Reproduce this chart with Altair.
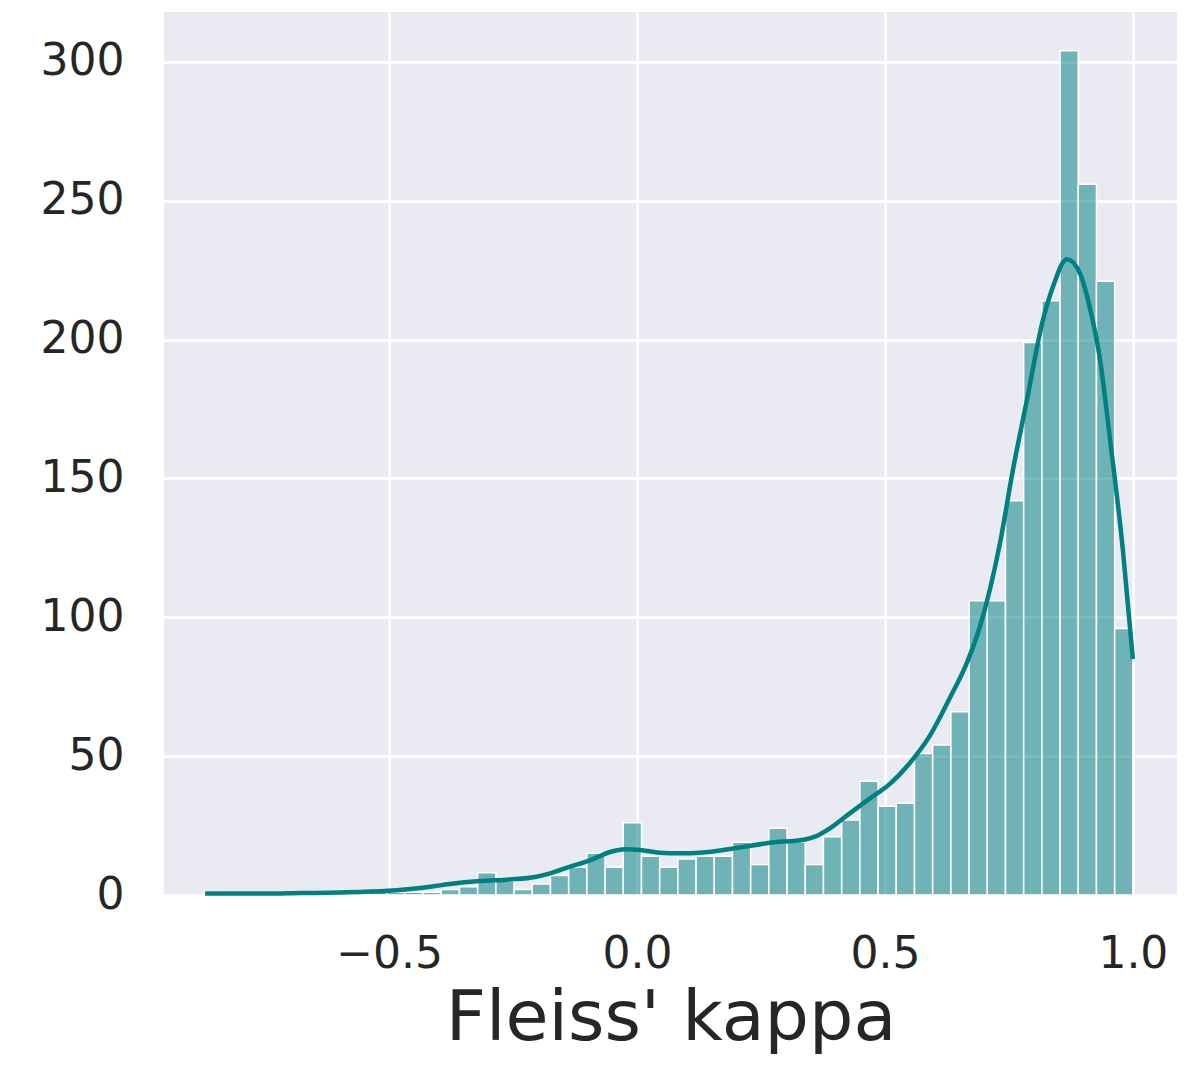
import altair as alt
import pandas as pd

# Histogram of Fleiss' kappa values
bin_start = -0.872
bin_width = 0.036706
bin_counts = [1, 0, 0, 0, 1, 0, 0, 1, 0, 1, 1, 1, 1, 2, 3, 8, 5, 2, 4, 7,
              10, 15, 10, 26, 14, 10, 13, 14, 14, 19, 11, 24, 19, 11, 21, 27,
              41, 32, 33, 51, 54, 66, 106, 106, 142, 199, 214, 304, 256, 221, 96]

# KDE curve (scaled to counts)
kde_x = [-0.871, -0.75, -0.679, -0.6, -0.502, -0.4375, -0.377, -0.3165, -0.256,
         -0.2056, -0.1754, -0.135, -0.0948, -0.0544, -0.0242, 0.006, 0.0464,
         0.0867, 0.127, 0.1976, 0.268, 0.3387, 0.359, 0.389, 0.429, 0.4698,
         0.51, 0.55, 0.591, 0.631, 0.665, 0.6915, 0.732, 0.758, 0.786, 0.8185,
         0.8387, 0.867, 0.893, 0.913, 0.933, 0.954, 0.98, 1.0]
kde_y = [0.5, 0.5, 0.7, 0.9, 1.5, 2.5, 4.0, 5.0, 5.6, 6.5, 7.8, 10.2, 12.5,
         15.5, 16.5, 16.2, 15.2, 15.0, 15.2, 16.8, 18.8, 20.0, 21.0, 24.0,
         29.4, 34.8, 40.0, 47.5, 57.5, 71.0, 83.5, 96.6, 126.7, 153.0, 178.0,
         207.0, 219.0, 229.0, 224.0, 211.7, 193.7, 164.0, 124.0, 85.0]

x_ticks = [-0.5, 0.0, 0.5, 1.0]
y_ticks = [0, 50, 100, 150, 200, 250, 300]

bars = pd.DataFrame({
    "lo": [bin_start + i * bin_width for i in range(len(bin_counts))],
    "hi": [bin_start + (i + 1) * bin_width for i in range(len(bin_counts))],
    "count": bin_counts,
})
kde = pd.DataFrame({"kx": kde_x, "ky": kde_y})

xscale = alt.Scale(domain=[-0.954, 1.089], nice=False, zero=False)
yscale = alt.Scale(domain=[0, 318], nice=False)
xaxis = alt.Axis(values=x_ticks, format=".1f", title="Fleiss' kappa",
                 labelPadding=37, titlePadding=8, titleFontSize=70,
                 titleFontWeight="normal", titleColor="#262626",
                 titleFont="DejaVu Sans")
yaxis = alt.Axis(values=y_ticks, format="d", title=None, labelPadding=40)

bar_layer = alt.Chart(bars).mark_rect(
    fill="#008080", fillOpacity=0.52, stroke="white", strokeWidth=1.5
).encode(
    x=alt.X("lo:Q", scale=xscale, axis=xaxis),
    x2="hi:Q",
    y=alt.Y("count:Q", scale=yscale, axis=yaxis),
    y2=alt.datum(0),
)

line_layer = alt.Chart(kde).mark_line(
    color="#008080", strokeWidth=4.5, interpolate="monotone"
).encode(
    x=alt.X("kx:Q", scale=xscale, axis=xaxis),
    y=alt.Y("ky:Q", scale=yscale, axis=yaxis),
)

chart = alt.layer(bar_layer, line_layer).properties(
    width=1013,
    height=883,
    autosize=alt.AutoSizeParams(type="none"),
    padding={"left": 156, "top": 4, "right": 5, "bottom": 162},
    background="white",
).configure_view(
    fill="#EAEAF2", strokeWidth=0
).configure_axis(
    domain=False, ticks=False, tickSize=0, grid=True, gridColor="white",
    gridWidth=2.5, labelFont="DejaVu Sans", labelFontSize=44,
    labelColor="#262626",
)

chart.save("out.html", embed_options={"renderer": "svg", "actions": False})
